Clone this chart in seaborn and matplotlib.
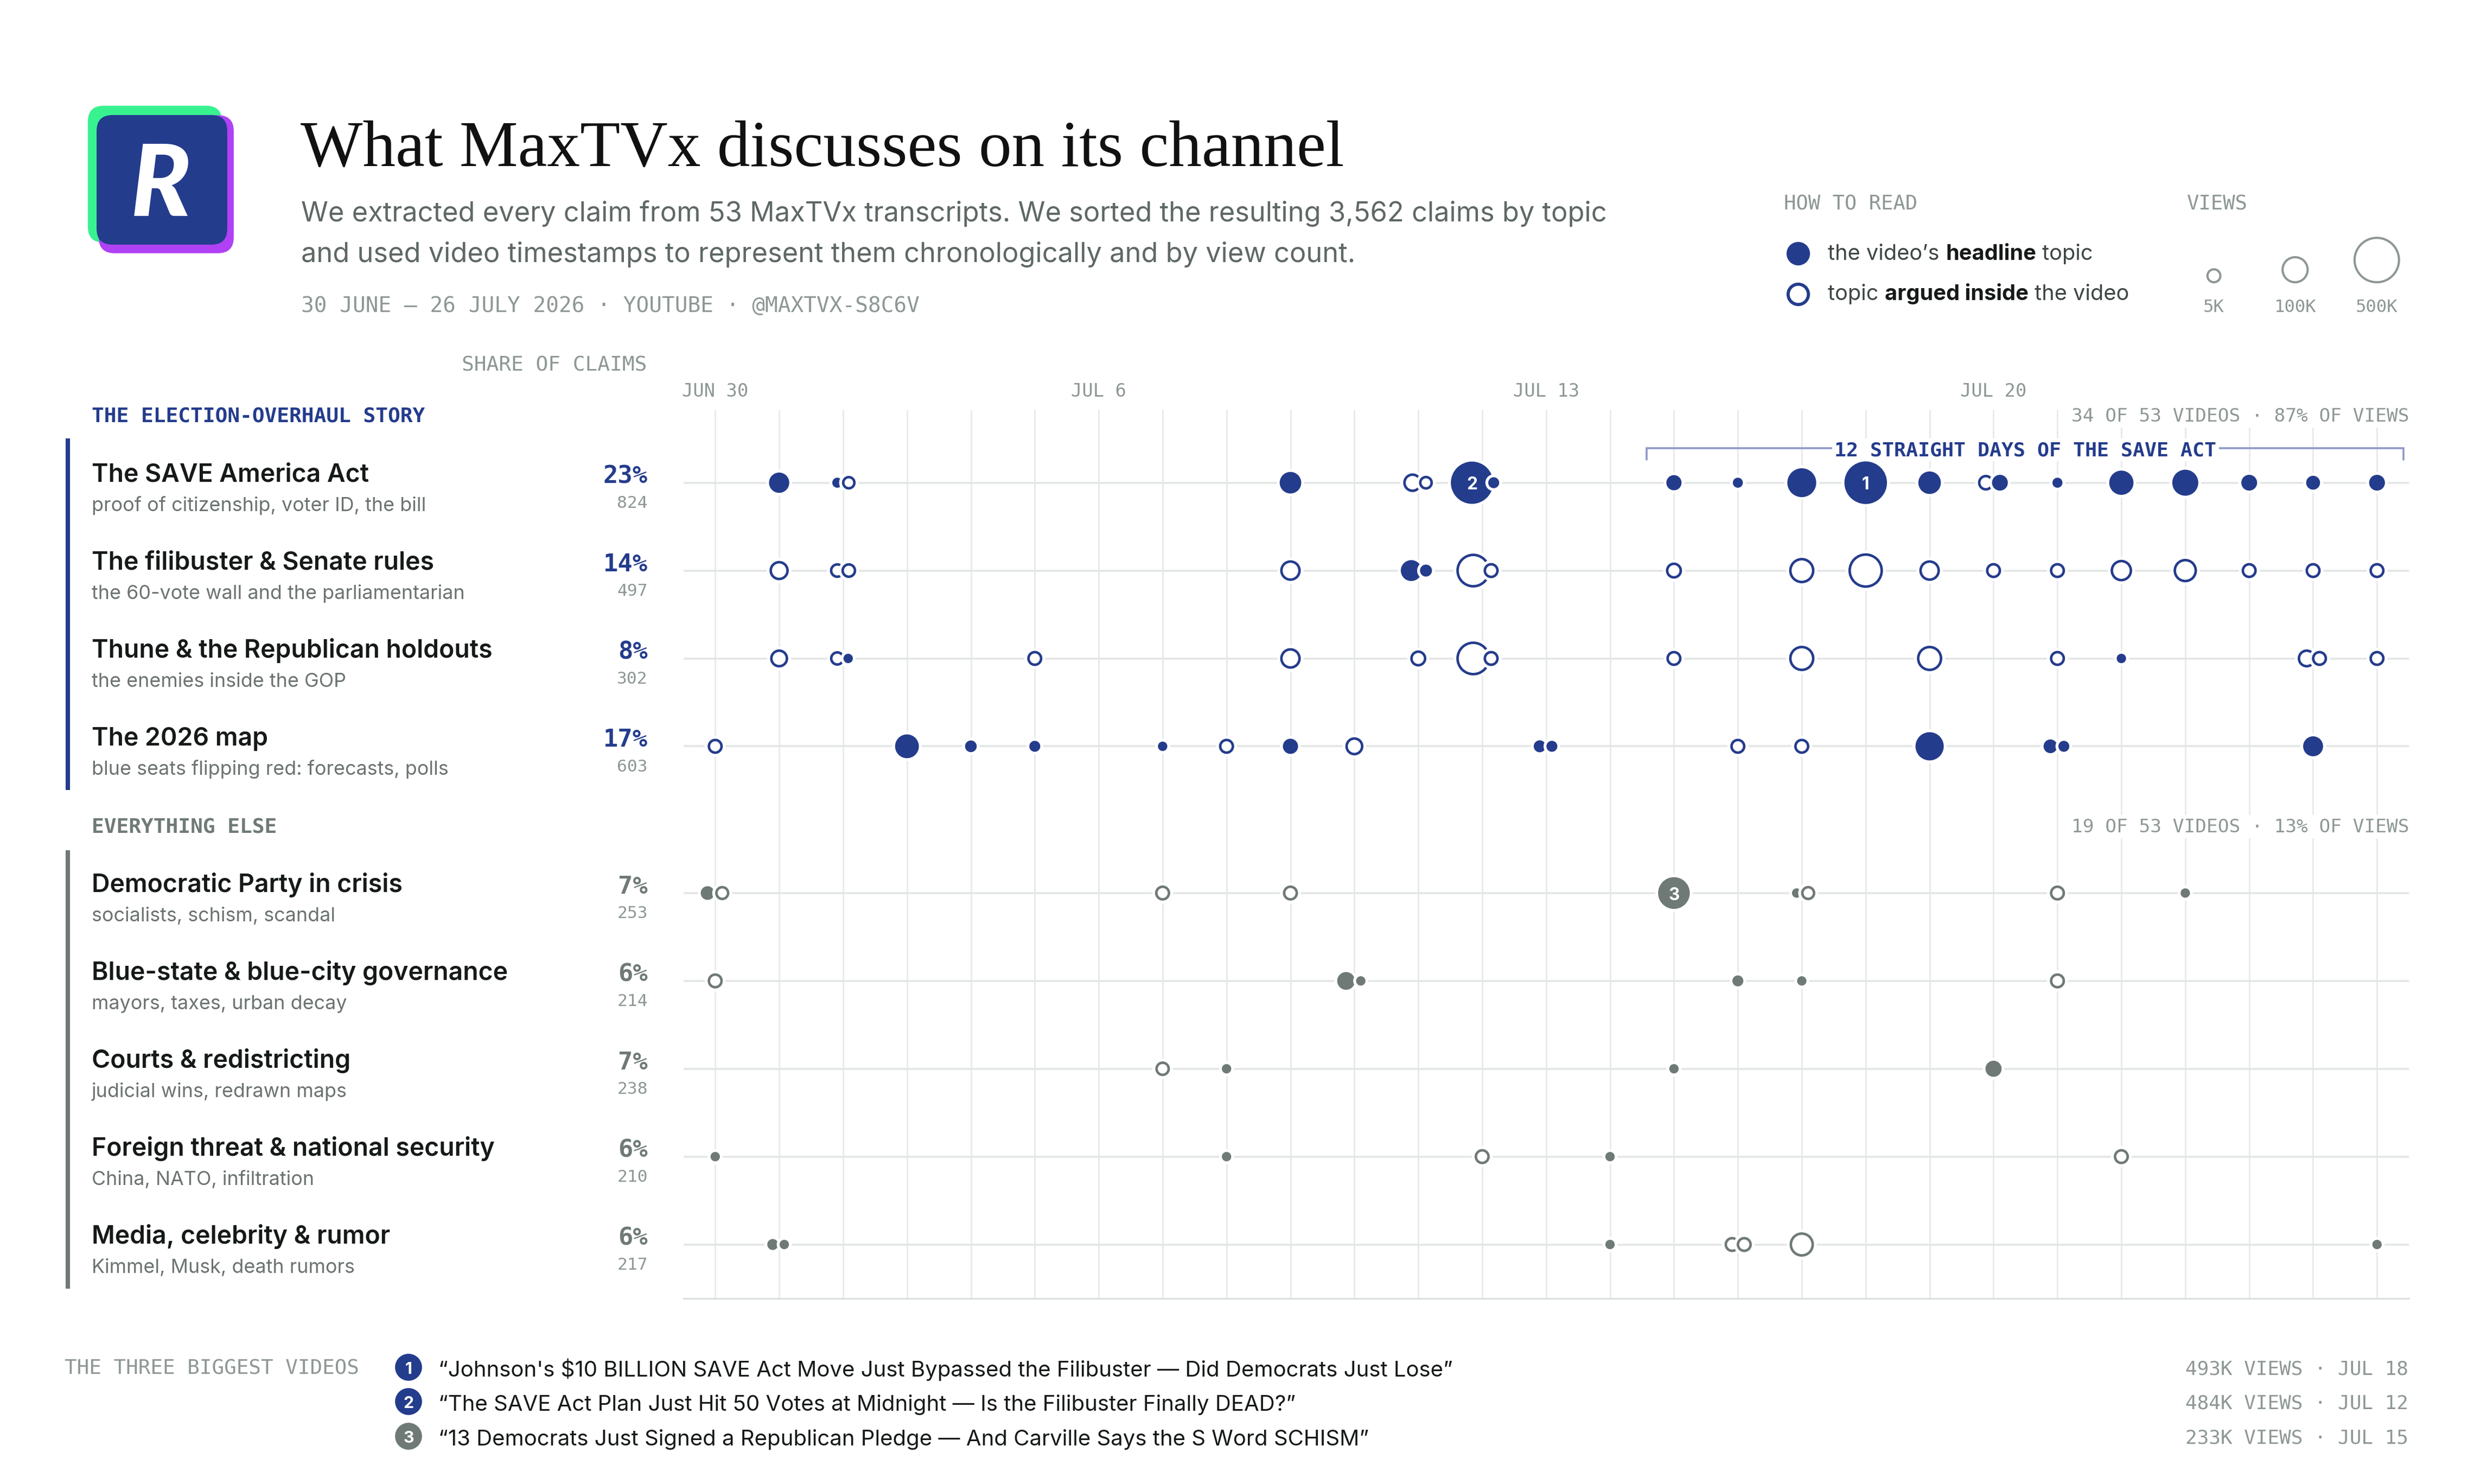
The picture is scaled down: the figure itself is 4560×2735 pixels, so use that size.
import numpy as np
import pandas as pd
import matplotlib
matplotlib.use("Agg")
import matplotlib.pyplot as plt
import matplotlib.transforms as mtransforms
from matplotlib.patches import FancyBboxPatch, Rectangle
import seaborn as sns

# ---------------- data ----------------
topics = ["The SAVE America Act", "The filibuster & Senate rules", "Thune & the Republican holdouts",
          "The 2026 map", "Democratic Party in crisis", "Blue-state & blue-city governance",
          "Courts & redistricting", "Foreign threat & national security", "Media, celebrity & rumor"]
topic_notes = ["proof of citizenship, voter ID, the bill", "the 60-vote wall and the parliamentarian",
               "the enemies inside the GOP", "blue seats flipping red: forecasts, polls",
               "socialists, schism, scandal", "mayors, taxes, urban decay", "judicial wins, redrawn maps",
               "China, NATO, infiltration", "Kimmel, Musk, death rumors"]
share_pct = [23, 14, 8, 17, 7, 6, 7, 6, 6]
claim_counts = [824, 497, 302, 603, 253, 214, 238, 210, 217]
n_story = 4  # first four topics = the election-overhaul story

# days since Jun 30 (upload time), views in thousands, 1 = headline topic / 0 = argued inside
dot_day = [
    [1.0, 1.91, 2.09, 9.0, 10.91, 11.12, 11.84, 12.18, 15, 16, 17, 18, 19, 19.88, 20.10, 21, 22, 23, 24, 25, 26],
    [1.0, 1.91, 2.09, 9.0, 10.89, 11.12, 11.86, 12.14, 15, 17, 18, 19, 20, 21, 22, 23, 24, 25, 26],
    [1.0, 1.91, 2.08, 5.0, 9.0, 11.0, 11.86, 12.14, 15, 17, 19, 21, 22, 24.9, 25.1, 26],
    [0.0, 3.0, 4.0, 5.0, 7.0, 8.0, 9.0, 10.0, 12.9, 13.09, 16, 17, 19, 20.89, 21.1, 25],
    [-0.12, 0.11, 7, 9, 15, 16.92, 17.1, 21, 23],
    [0, 9.87, 10.1, 16, 17, 21],
    [7, 8, 15, 20],
    [0, 8, 12, 14, 22],
    [0.9, 1.08, 14, 15.91, 16.1, 17, 26],
]
dot_views = [
    [63, 2, 14, 77, 48, 15, 484, 4, 22, 2, 181, 493, 88, 26, 26, 2, 110, 135, 26, 15, 26],
    [54, 20, 20, 67, 70, 7, 278, 22, 28, 126, 292, 67, 22, 22, 77, 100, 22, 22, 22],
    [43, 19, 1, 22, 67, 28, 278, 22, 22, 126, 126, 22, 1, 43, 22, 22],
    [22, 104, 6, 4, 1, 22, 22, 43, 7, 4, 22, 22, 170, 14, 4, 60],
    [14, 17, 22, 22, 233, 1, 17, 22, 1],
    [22, 40, 1, 4, 1, 22],
    [19, 1, 1, 28],
    [1, 1, 22, 1, 22],
    [4, 1, 1, 22, 22, 112, 1],
]
dot_head = [
    [1, 1, 0, 1, 0, 0, 1, 1, 1, 1, 1, 1, 1, 0, 1, 1, 1, 1, 1, 1, 1],
    [0, 0, 0, 0, 1, 1, 0, 0, 0, 0, 0, 0, 0, 0, 0, 0, 0, 0, 0],
    [0, 0, 1, 0, 0, 0, 0, 0, 0, 0, 0, 0, 1, 0, 0, 0],
    [0, 1, 1, 1, 1, 0, 1, 0, 1, 1, 0, 0, 1, 1, 1, 1],
    [1, 0, 0, 0, 1, 1, 0, 0, 1],
    [0, 1, 1, 1, 1, 0],
    [0, 1, 1, 1],
    [1, 1, 0, 1, 0],
    [1, 1, 1, 0, 0, 0, 1],
]

tick_days = [0, 6, 13, 20]
tick_labels = ["JUN 30", "JUL 6", "JUL 13", "JUL 20"]
n_days = 27

group_videos = [34, 19]
group_view_share = [87, 13]
total_videos = 53
streak_start, streak_end = 15, 26

top_rank = [1, 2, 3]
top_topic = [0, 0, 4]
top_day = [18.0, 11.84, 15.0]
top_views_k = [493, 484, 233]
top_date = ["JUL 18", "JUL 12", "JUL 15"]
top_title = ["\u201cJohnson's $10 BILLION SAVE Act Move Just Bypassed the Filibuster \u2014 Did Democrats Just Lose\u201d",
             "\u201cThe SAVE Act Plan Just Hit 50 Votes at Midnight \u2014 Is the Filibuster Finally DEAD?\u201d",
             "\u201c13 Democrats Just Signed a Republican Pledge \u2014 And Carville Says the S Word SCHISM\u201d"]

legend_views_k = [5, 100, 500]
legend_labels = ["5K", "100K", "500K"]

# ---------------- style ----------------
NAVY = "#243C8C"
GRAY = "#6F7A76"
MONO_GRAY = "#8E9893"
TEXT = "#151918"
SUB_GRAY = "#5E6864"
GRID = "#E6E9E8"
ROWLINE = "#E2E6E5"
MONO = "DejaVu Sans Mono"

sns.set_style("white")
plt.rcParams["font.family"] = ["Inter", "DejaVu Sans"]

PX = 4560 / 1560          # output pixels per layout pixel
PT = PX * 72 / 300        # points per layout pixel
GAP = 0.67

fig = plt.figure(figsize=(15.2, 9.12), dpi=300)
fig.patch.set_facecolor("white")
ax = fig.add_axes([431 / 1560, 1 - 818.9 / 936, (1519 - 431) / 1560, (818.9 - 258.6) / 936], zorder=1)
ov = fig.add_axes([0, 0, 1, 1], zorder=5)
ov.set_xlim(0, 1560)
ov.set_ylim(936, 0)
ov.set_axis_off()
renderer = fig.canvas.get_renderer()


def radius(v):
    return 3.67 + 11.03 * np.sqrt(np.asarray(v, dtype=float) / 500)


def ypos_of(i):
    return i + (GAP if i >= n_story else 0)


# ---------------- dots ----------------
recs = []
for i in range(len(topics)):
    for d, v, h in zip(dot_day[i], dot_views[i], dot_head[i]):
        recs.append(dict(topic=i, day=d, views=v, head=h))
df = pd.DataFrame(recs)
df["ypos"] = df["topic"].map(ypos_of)
df["group"] = np.where(df["topic"] < n_story, "story", "else")
df["cluster"] = df["day"].round()
df["layer"] = df.groupby(["topic", "cluster"]).cumcount()
df["r"] = radius(df["views"])
df["s_halo"] = (2 * (df["r"] + 0.6) * PT) ** 2
df["s_fill"] = (2 * (df["r"] - 1.2) * PT) ** 2
df["s_ring"] = (2 * (df["r"] - 2.0) * PT) ** 2
pal = {"story": NAVY, "else": GRAY}

ax.vlines(np.arange(n_days), -0.832, 9.282, color=GRID, lw=0.65, zorder=0.5)
ax.hlines([ypos_of(i) for i in range(len(topics))], -0.496, 26.5, color=ROWLINE, lw=0.85, zorder=1)


def dots(data, col, z, **kw):
    if len(data) == 0:
        return
    sns.scatterplot(data=data, x="day", y="ypos", size=col,
                    sizes={s: s for s in data[col].unique()},
                    legend=False, ax=ax, zorder=z, **kw)


for k in sorted(df["layer"].unique()):
    L = df[df["layer"] == k]
    z = 3 + 3 * k
    dots(L, "s_halo", z, color="white", linewidth=0)
    dots(L[L["head"] == 1], "s_fill", z + 1, hue="group", palette=pal, linewidth=0)
    for g, c in pal.items():
        dots(L[(L["head"] == 0) & (L["group"] == g)], "s_ring", z + 1,
             color="white", edgecolor=c, linewidth=1.6 * PT)

for rk, tp, d in zip(top_rank, top_topic, top_day):
    ax.annotate(str(rk), xy=(d, ypos_of(tp)), xytext=(0, -2.8), textcoords="offset points",
                ha="center", va="baseline", color="white", fontsize=7.6, fontweight="bold", zorder=20)

ax.set_xlim(-0.496, 26.5)
ax.set_ylim(9.282, -0.832)
ax.set_xlabel("")
ax.set_ylabel("")
ax.set_yticks([])
ax.xaxis.set_ticks_position("top")
ax.set_xticks(tick_days, labels=tick_labels, fontfamily=MONO, fontsize=8.1, color=MONO_GRAY)
ax.tick_params(axis="x", length=0, pad=4.3)
for s in ["top", "left", "right"]:
    ax.spines[s].set_visible(False)
ax.spines["bottom"].set_color("#DADFDD")
ax.spines["bottom"].set_linewidth(0.7)

# streak bracket
bx0, bx1 = streak_start - 0.43, streak_end + 0.41
ax.plot([bx0, bx0, bx1, bx1], [-0.265, -0.392, -0.392, -0.265], color="#8E98C8", lw=0.85,
        zorder=2, solid_joinstyle="miter")
ax.text((streak_start + streak_end) / 2, -0.312,
        f"{streak_end - streak_start + 1} STRAIGHT DAYS OF THE SAVE ACT",
        ha="center", va="baseline", fontfamily=MONO, fontweight="bold", fontsize=8.75, color=NAVY,
        zorder=25, bbox=dict(boxstyle="square,pad=0.12", fc="white", ec="none"))


# ---------------- helpers ----------------
def fit(t, width):
    w = t.get_window_extent(renderer).width / PX
    t.set_fontsize(t.get_fontsize() * width / w)
    return t.get_fontsize()


def text_w(s, size, weight):
    t = ov.text(0, 0, "|" + s + "|", fontsize=size, fontweight=weight)
    t2 = ov.text(0, 0, "||", fontsize=size, fontweight=weight)
    w = (t.get_window_extent(renderer).width - t2.get_window_extent(renderer).width) / PX
    t.remove()
    t2.remove()
    return w


def rich(x, y, parts, size, color):
    for s, wt in parts:
        ov.text(x, y, s, fontsize=size, fontweight=wt, color=color if wt == "normal" else TEXT,
                va="baseline", ha="left")
        x += text_w(s, size, wt)


# ---------------- header ----------------
ov.add_patch(FancyBboxPatch((55.4, 67), 84.6, 86.3, boxstyle="round,pad=0,rounding_size=10",
                            fc="#38F290", ec="none"))
ov.add_patch(FancyBboxPatch((62.2, 73), 85.2, 87, boxstyle="round,pad=0,rounding_size=10",
                            fc="#B141F5", ec="none"))
ov.add_patch(FancyBboxPatch((60.9, 72.9), 82.4, 81.7, boxstyle="round,pad=0,rounding_size=10",
                            fc=NAVY, ec="none"))
ov.text(101.4, 136.2, "R", ha="center", va="baseline", color="white", fontsize=44,
        fontfamily=["Lato", "DejaVu Sans"], fontweight="black", fontstyle="italic")

t = ov.text(189.4, 104.7, "What MaxTVx discusses on its channel", fontfamily=["Liberation Serif"],
            fontsize=40, color="#111111", va="baseline")
fit(t, 658)
t1 = ov.text(190, 139.6, "We extracted every claim from 53 MaxTVx transcripts. We sorted the resulting "
             "3,562 claims by topic", fontsize=13, color=SUB_GRAY, va="baseline")
fs = fit(t1, 823.6)
ov.text(190, 165.2, "and used video timestamps to represent them chronologically and by view count.",
        fontsize=fs, color=SUB_GRAY, va="baseline")
ov.text(190, 196.8, "30 JUNE \u2013 26 JULY 2026 \u00b7 YOUTUBE \u00b7 @MAXTVX-S8C6V", fontfamily=MONO,
        fontsize=9.45, color=MONO_GRAY, va="baseline")

ov.text(1124.7, 132.3, "HOW TO READ", fontfamily=MONO, fontsize=8.95, color=MONO_GRAY, va="baseline")
ov.text(1379, 132.3, "VIEWS", fontfamily=MONO, fontsize=8.95, color=MONO_GRAY, va="baseline")
ov.scatter([1133.9], [160.1], s=(2 * 7.4 * PT) ** 2, color=NAVY, linewidth=0)
ov.scatter([1133.9], [185.7], s=(2 * 6.4 * PT) ** 2, facecolor="white", edgecolor=NAVY,
           linewidth=2.0 * PT)
parts1 = [("the video\u2019s ", "normal"), ("headline", "bold"), (" topic", "normal")]
parts2 = [("topic ", "normal"), ("argued inside", "bold"), (" the video", "normal")]
w10 = sum(text_w(s, 10, wt) for s, wt in parts1)
lsize = 10 * 167 / w10
rich(1152.7, 164, parts1, lsize, "#3D4643")
rich(1152.7, 189.3, parts2, lsize, "#3D4643")

leg_x = [1396, 1447.2, 1498.7]
leg_r = radius(legend_views_k)
ov.scatter(leg_x, 179 - leg_r, s=(2 * (leg_r - 0.7) * PT) ** 2, facecolor="white",
           edgecolor=MONO_GRAY, linewidth=1.4 * PT)
for x, lab in zip(leg_x, legend_labels):
    ov.text(x, 196.7, lab, ha="center", va="baseline", fontfamily=MONO, fontsize=7.75, color=MONO_GRAY)

# ---------------- left panel ----------------
tr = mtransforms.blended_transform_factory(ov.transData, ax.transData)
ov.text(407.8, 234, "SHARE OF CLAIMS", ha="right", va="baseline", fontfamily=MONO, fontsize=9.1,
        color=MONO_GRAY)
ov.text(57.8, 266.2, "THE ELECTION-OVERHAUL STORY", va="baseline", fontfamily=MONO, fontsize=9.1,
        fontweight="bold", color=NAVY)
ov.text(57.8, 525.2, "EVERYTHING ELSE", va="baseline", fontfamily=MONO, fontsize=9.1,
        fontweight="bold", color=GRAY)
ov.add_patch(Rectangle((41.3, 276.6), 2.8, 221.9, fc=NAVY, ec="none"))
ov.add_patch(Rectangle((41.3, 536.5), 2.8, 276.3, fc=GRAY, ec="none"))

tt = ov.text(57.8, 0, topics[5], fontsize=12, fontweight="semibold")
title_fs = fit(tt, 262.6)
tt.remove()
tn = ov.text(57.8, 0, topic_notes[1], fontsize=9)
note_fs = fit(tn, 235.1)
tn.remove()
for i in range(len(topics)):
    y = ypos_of(i)
    col = NAVY if i < n_story else GRAY
    ov.text(57.8, y - 0.018, topics[i], transform=tr, fontsize=title_fs, fontweight="semibold",
            color=TEXT, va="baseline")
    ov.text(57.8, y + 0.316, topic_notes[i], transform=tr, fontsize=note_fs, color="#6B7370",
            va="baseline")
    ov.text(408.4, y, f"{share_pct[i]}%", transform=tr, ha="right", va="baseline", fontfamily=MONO,
            fontweight="bold", fontsize=10.9, color=col)
    ov.text(408.4, y + 0.28, f"{claim_counts[i]}", transform=tr, ha="right", va="baseline",
            fontfamily=MONO, fontsize=7.5, color=MONO_GRAY)

for gv, gs, yb in zip(group_videos, group_view_share, [265.8, 524.8]):
    ov.text(1519, yb, f"{gv} OF {total_videos} VIDEOS \u00b7 {gs}% OF VIEWS", ha="right", va="baseline",
            fontfamily=MONO, fontsize=8.25, color=MONO_GRAY,
            bbox=dict(boxstyle="square,pad=0.15", fc="white", ec="none"))

# ---------------- footer ----------------
ov.text(40.8, 866.4, "THE THREE BIGGEST VIDEOS", va="baseline", fontfamily=MONO, fontsize=9.0,
        color=MONO_GRAY)
fy = [862.4, 884.0, 905.9]
ov.scatter([257.6] * 3, fy, s=(2 * 8.5 * PT) ** 2, color=[NAVY if tp < n_story else GRAY for tp in top_topic],
           linewidth=0)
for rk, y in zip(top_rank, fy):
    ov.text(257.6, y + 3.7, str(rk), ha="center", va="baseline", color="white", fontsize=7.3,
            fontweight="bold")
tq = ov.text(276.5, fy[0] + 5.6, top_title[0], va="baseline", fontsize=11, color=TEXT, parse_math=False)
qfs = fit(tq, 640.7)
for y, s in zip(fy[1:], top_title[1:]):
    ov.text(276.5, y + 5.6, s, va="baseline", fontsize=qfs, color=TEXT, parse_math=False)
for y, v, d in zip(fy, top_views_k, top_date):
    ov.text(1518.6, y + 4.3, f"{v}K VIEWS \u00b7 {d}", ha="right", va="baseline", fontfamily=MONO,
            fontsize=8.65, color=MONO_GRAY)

fig.savefig("out.png", dpi=300, facecolor="white")
